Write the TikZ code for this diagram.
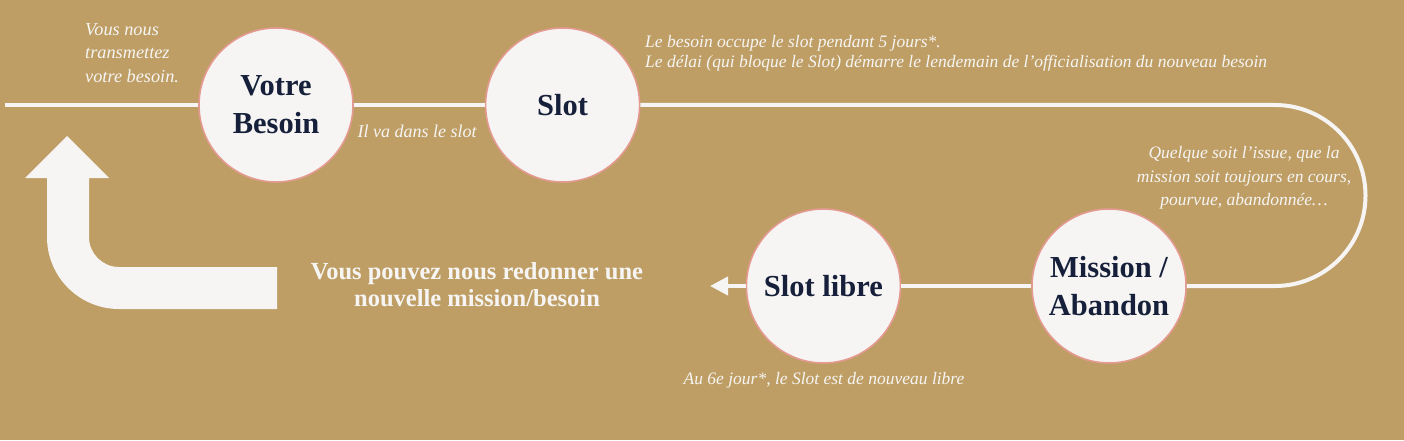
\documentclass[tikz,border=0pt]{standalone}
\usepackage{fontspec}
\setmainfont{Liberation Serif}
\usetikzlibrary{arrows.meta,positioning,calc}
\definecolor{gold}{HTML}{BE9E65}
\definecolor{paper}{HTML}{F6F5F3}
\definecolor{rose}{HTML}{E49A90}
\definecolor{ink}{HTML}{16203A}

\begin{document}
\begin{tikzpicture}[x=1pt, y=1pt, node distance=130pt,
    phase/.style={circle, draw=rose, line width=1.6pt, fill=paper, minimum size=154pt, inner sep=0pt,
        align=center, text=ink, font=\bfseries\fontsize{30.5}{38}\selectfont},
    note/.style={inner sep=0pt, text=paper, font=\itshape\fontsize{17.5}{23.5}\selectfont},
    track/.style={draw=paper, line width=4pt}]
    \fill[gold] (0,0) rectangle (1404,440);

    \coordinate (start) at (5,335);
    \node[phase] (besoin) at (276,335) {Votre\\Besoin};
    \node[phase, right=131pt of besoin] (slot) {Slot};
    \coordinate (bend) at (1275,335);
    \node[phase] (mission) at (1109,154) {Mission /\\Abandon};
    \node[phase, left=130pt of mission] (libre) {Slot libre};
    \coordinate (stop) at (710,154);

    \draw[track] (start) -- (besoin);
    \draw[track] (besoin) -- (slot);
    \draw[track] (slot) -- (bend) arc[start angle=90, end angle=-90, radius=90.5] -- (mission);
    \draw[track] (mission) -- (libre);
    \draw[track, -{Triangle[length=18pt, width=18pt]}] (libre) -- (stop);

    \fill[paper] (67,304) -- (109,262) -- (89,262) -- (89,203)
        arc[start angle=180, end angle=270, radius=30] -- (277,173) -- (277,131) -- (119,131)
        arc[start angle=270, end angle=180, radius=72] -- (47,262) -- (25,262) -- cycle;

    \node[note, align=left, anchor=west, font=\itshape\fontsize{18.3}{23.5}\selectfont] (transmis) at (85,387) {Vous nous\\transmettez\\votre besoin.};
    \node[note, font=\itshape\fontsize{18}{23}\selectfont] (dans) at (417,309) {Il va dans le slot};
    \node[note, align=left, anchor=west, font=\itshape\fontsize{17.5}{20}\selectfont] (delai) at (645,387) {Le besoin occupe le slot pendant 5 jours*.\\Le délai (qui bloque le Slot) démarre le lendemain de l'officialisation du nouveau besoin};
    \node[note, align=center] (issue) at (1244,262) {Quelque soit l'issue, que la\\mission soit toujours en cours,\\pourvue, abandonnée…};
    \node[note] (sixe) at (824,60) {Au 6e jour*, le Slot est de nouveau libre};
    \node[inner sep=0pt, align=center, text=paper, font=\bfseries\fontsize{24.5}{27}\selectfont] (redonner) at (477,155) {Vous pouvez nous redonner une\\nouvelle mission/besoin};
\end{tikzpicture}
\end{document}
